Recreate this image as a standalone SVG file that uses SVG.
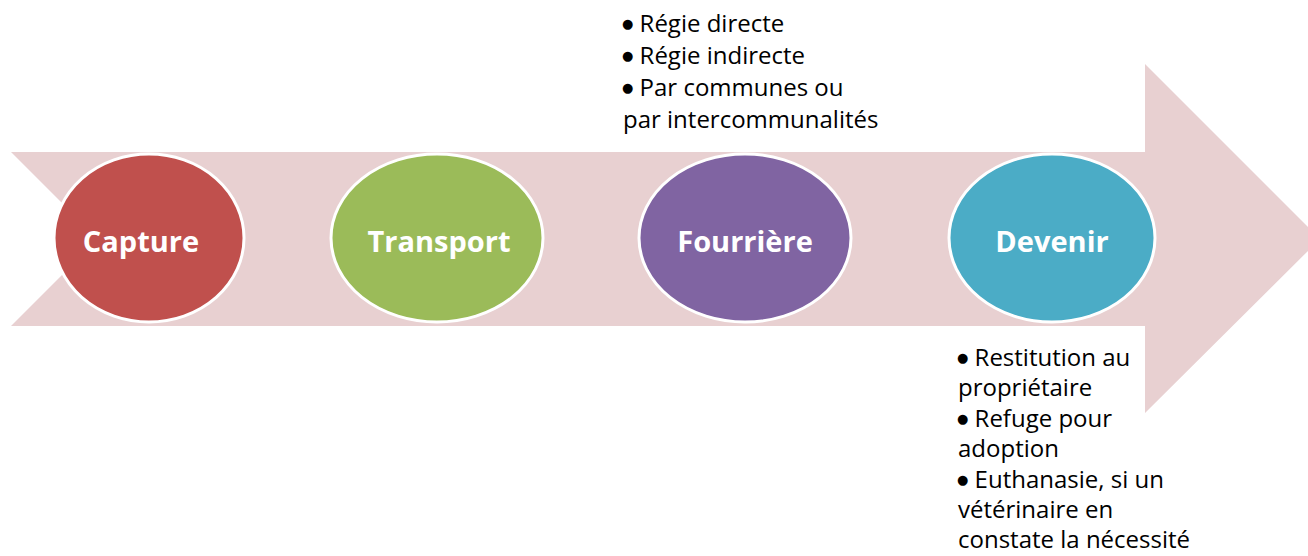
<svg xmlns="http://www.w3.org/2000/svg" width="1308" height="556" viewBox="0 0 1308 556">
<style>
.node{stroke:#FFFFFF;stroke-width:3}
.lbl{font-family:"Open Sans","Liberation Sans",sans-serif;font-weight:bold;font-size:29px;fill:#FFFFFF;text-anchor:middle}
.txt{font-family:"Open Sans","Liberation Sans",sans-serif;font-size:24px;fill:#000000}
.b{font-family:"DejaVu Sans",sans-serif;font-size:13px}
</style>
<rect width="1308" height="556" fill="#FFFFFF"/>
<g id="connectors">
<path d="M11,152 L1145,152 L1145,64 L1320,239 L1145,413 L1145,326 L11,326 L98,239 Z" fill="#E8D0D1"/>
</g>
<g id="capture">
<ellipse class="node" cx="149" cy="238" rx="95" ry="84" fill="#C0504D"/>
<text class="lbl" x="141" y="252">Capture</text>
</g>
<g id="transport">
<ellipse class="node" cx="437" cy="238" rx="106" ry="84" fill="#9BBB59"/>
<text class="lbl" x="439" y="252">Transport</text>
</g>
<g id="fourriere">
<ellipse class="node" cx="745" cy="238" rx="106" ry="84" fill="#8064A2"/>
<text class="lbl" x="745" y="252">Fourrière</text>
</g>
<g id="devenir">
<ellipse class="node" cx="1052" cy="238" rx="103" ry="84" fill="#4BACC6"/>
<text class="lbl" x="1052" y="252">Devenir</text>
</g>
<g id="notes-top">
<text class="txt" x="622" y="32"><tspan class="b" dy="-4">●</tspan><tspan dy="4"> Régie directe</tspan></text>
<text class="txt" x="622" y="64"><tspan class="b" dy="-4">●</tspan><tspan dy="4"> Régie indirecte</tspan></text>
<text class="txt" x="622" y="96"><tspan class="b" dy="-4">●</tspan><tspan dy="4"> Par communes ou</tspan></text>
<text class="txt" x="623" y="128">par intercommunalités</text>
</g>
<g id="notes-bottom">
<text class="txt" x="957" y="366"><tspan class="b" dy="-4">●</tspan><tspan dy="4"> Restitution au</tspan></text>
<text class="txt" x="958" y="396">propriétaire</text>
<text class="txt" x="957" y="427"><tspan class="b" dy="-4">●</tspan><tspan dy="4"> Refuge pour</tspan></text>
<text class="txt" x="958" y="457">adoption</text>
<text class="txt" x="957" y="488"><tspan class="b" dy="-4">●</tspan><tspan dy="4"> Euthanasie, si un</tspan></text>
<text class="txt" x="958" y="518">vétérinaire en</text>
<text class="txt" x="958" y="548">constate la nécessité</text>
</g>
</svg>
